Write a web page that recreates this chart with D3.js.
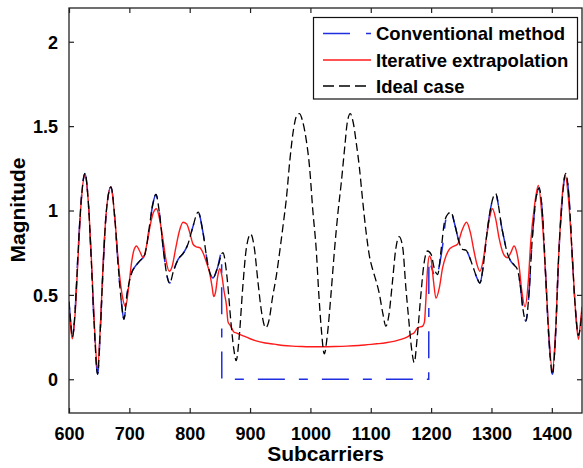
<!DOCTYPE html>
<html><head><meta charset="utf-8">
<script src="https://cdn.jsdelivr.net/npm/d3@7"></script>
<style>
html,body{margin:0;padding:0;background:#fff;}
svg text{font-family:"Liberation Sans",Arial,sans-serif;font-weight:bold;fill:#000;}
</style></head>
<body>
<svg id="chart" width="583" height="468"></svg>
<script>
// ---- data ----
const xTicks = [600, 700, 800, 900, 1000, 1100, 1200, 1300, 1400];
const yTicks = [0, 0.5, 1, 1.5, 2];
const yTickLabels = ["0", "0.5", "1", "1.5", "2"];
const seriesNames = ["Conventional method", "Iterative extrapolation", "Ideal case"];

const idealCase = [
 [600,0.46],[603,0.33],[605.5,0.25],[610,0.40],[615,0.75],[620,1.05],[626.5,1.22],[632,1.05],[637,0.7],[642,0.3],
 [647.4,0.03],[652,0.3],[657,0.7],[662,1.0],[669.5,1.14],[676,0.95],[682,0.65],[687,0.45],[691,0.355],[696,0.5],
 [703.7,0.63],[710,0.67],[717,0.70],[725.7,0.74],[733,0.9],[739,1.04],[744,1.095],[750,0.98],[756,0.78],[762,0.62],
 [767,0.57],[773,0.64],[780.8,0.71],[790,0.75],[797,0.80],[805,0.90],[814,0.99],[822,0.87],[830,0.68],[838.6,0.60],
 [846,0.66],[855,0.75],[862,0.6],[868,0.35],[873,0.18],[877,0.11],[882,0.25],[888,0.55],[894,0.78],[901,0.86],
 [907,0.78],[913,0.58],[919,0.40],[925.8,0.305],[932,0.36],[937,0.48],[943.4,0.61],[950,0.78],[955,0.92],[960,1.065],
 [966,1.3],[972,1.48],[977,1.56],[982,1.574],[987,1.53],[993,1.42],[998.5,1.26],[1004,1.0],[1009.6,0.77],[1014,0.5],
 [1018,0.3],[1023,0.15],[1028,0.26],[1034,0.5],[1040,0.77],[1046,1.0],[1051,1.16],[1057,1.38],[1061,1.52],[1066,1.574],
 [1071,1.52],[1076,1.4],[1081,1.26],[1086,1.08],[1092,0.88],[1097.8,0.73],[1104,0.64],[1109,0.58],[1114,0.51],[1120,0.39],
 [1125,0.315],[1130,0.38],[1136,0.58],[1141,0.76],[1147,0.845],[1153,0.78],[1158,0.55],[1163,0.35],[1168,0.17],[1172,0.099],
 [1177,0.25],[1183,0.5],[1188,0.68],[1194,0.76],[1200,0.74],[1205,0.66],[1210.7,0.62],[1217,0.78],[1222,0.93],[1228,0.98],
 [1233,0.99],[1239,0.92],[1246.6,0.81],[1252,0.77],[1257.7,0.765],[1264,0.72],[1270,0.66],[1276,0.6],[1280.8,0.57],[1286,0.66],
 [1292,0.85],[1298,1.0],[1303,1.08],[1307,1.10],[1312,1.02],[1316,0.92],[1321,0.83],[1326,0.75],[1332,0.70],[1338,0.675],
 [1343,0.65],[1348,0.55],[1352,0.42],[1357,0.345],[1362,0.5],[1367,0.8],[1372,1.02],[1379,1.134],[1385,0.95],[1390,0.6],
 [1395,0.25],[1401,0.03],[1406,0.25],[1411,0.7],[1417,1.05],[1423,1.22],[1429,1.05],[1434,0.72],[1439,0.42],[1444,0.26],
 [1448,0.33],[1450,0.40]
];

const iterativeExtrapolation = [
 [600,0.43],[603,0.30],[605.5,0.24],[610,0.38],[615,0.72],[620,1.04],[626.5,1.21],[632,1.05],[637,0.72],[642,0.33],
 [647.4,0.06],[652,0.32],[657,0.72],[662,1.0],[669.5,1.14],[676,0.95],[682,0.68],[688,0.5],[693.7,0.43],[699,0.55],
 [704,0.70],[708,0.77],[712,0.79],[717,0.76],[723,0.72],[729,0.80],[735,0.92],[740,0.99],[745,1.01],[750,0.95],
 [756,0.82],[761,0.70],[766,0.64],[771,0.67],[777,0.78],[783,0.88],[789,0.93],[795,0.92],[800,0.87],[805.6,0.80],
 [811,0.785],[816.6,0.78],[822,0.75],[828,0.69],[833,0.63],[837,0.55],[839.8,0.49],[843,0.52],[846,0.60],[849.7,0.655],
 [853,0.62],[857,0.52],[860.8,0.44],[863.5,0.34],[867,0.32],[870,0.30],[873,0.28],[877,0.275],[883,0.266],[890,0.255],
 [900,0.24],[910,0.227],[925,0.215],[940,0.208],[955,0.200],[970,0.196],[985,0.194],[1000,0.193],[1020,0.193],[1040,0.194],
 [1060,0.196],[1080,0.200],[1095,0.205],[1110,0.21],[1125,0.216],[1140,0.226],[1150,0.236],[1160,0.25],[1167,0.266],[1172,0.276],
 [1177.6,0.305],[1182,0.31],[1186,0.315],[1189,0.34],[1191,0.45],[1194,0.65],[1197,0.73],[1200,0.71],[1204,0.58],[1208,0.48],
 [1213.5,0.54],[1219,0.66],[1224.6,0.73],[1230,0.77],[1235.5,0.785],[1243.8,0.80],[1250,0.87],[1258.7,0.93],[1265,0.87],[1271,0.76],
 [1276,0.68],[1280.8,0.64],[1286,0.70],[1292,0.85],[1297,0.96],[1301.7,1.01],[1307,0.95],[1313,0.83],[1318,0.76],[1322,0.73],
 [1326.5,0.72],[1332,0.75],[1337.5,0.79],[1342,0.75],[1345.8,0.67],[1350,0.53],[1355.7,0.43],[1361,0.58],[1365,0.81],[1371,1.02],
 [1377.7,1.148],[1384,0.95],[1390,0.6],[1395,0.27],[1401,0.05],[1406,0.27],[1411,0.7],[1416,1.03],[1422,1.21],[1428,1.05],
 [1434,0.72],[1439,0.42],[1444,0.237],[1447,0.32],[1450,0.43]
];

const conventionalMethod = [
 [600,0.46],[603,0.33],[605.5,0.25],[610,0.40],[615,0.75],[620,1.05],[626.5,1.22],[632,1.05],[637,0.7],[642,0.3],
 [647.4,0.03],[652,0.3],[657,0.7],[662,1.0],[669.5,1.14],[676,0.95],[682,0.65],[687,0.45],[691,0.355],[696,0.5],
 [703.7,0.63],[710,0.67],[717,0.70],[725.7,0.74],[733,0.9],[739,1.04],[744,1.095],[750,0.98],[756,0.78],[762,0.62],
 [767,0.57],[773,0.64],[780.8,0.71],[790,0.75],[797,0.80],[805,0.90],[814,0.99],[822,0.87],[830,0.68],[838.6,0.60],
 [846,0.66],[852.9,0.75],[853.2,0.0],[1196,0.0],[1196.3,0.71],[1201,0.66],[1208,0.60],[1214,0.68],[1219,0.79],[1224,0.94],
 [1228,0.98],[1233,0.99],[1239,0.92],[1246.6,0.81],[1252,0.77],[1257.7,0.765],[1264,0.72],[1270,0.66],[1276,0.6],[1280.8,0.57],
 [1286,0.66],[1292,0.85],[1298,1.0],[1303,1.08],[1307,1.10],[1312,1.02],[1316,0.92],[1321,0.83],[1326,0.75],[1332,0.70],
 [1338,0.675],[1343,0.65],[1348,0.55],[1352,0.42],[1357,0.345],[1362,0.5],[1367,0.8],[1372,1.02],[1379,1.134],[1385,0.95],
 [1390,0.6],[1395,0.25],[1401,0.03],[1406,0.25],[1411,0.7],[1417,1.05],[1423,1.22],[1429,1.05],[1434,0.72],[1439,0.42],
 [1444,0.26],[1448,0.33],[1450,0.40]
];

// ---- layout ----
const W = 583, H = 468;
const m = {left: 69, right: 1, top: 8, bottom: 55};
const svg = d3.select("#chart");
const x = d3.scaleLinear().domain([600, 1450]).range([m.left, W - m.right]);
const y = d3.scaleLinear().domain([-0.2, 2.2]).range([H - m.bottom, m.top]);

svg.append("defs").append("clipPath").attr("id", "clip")
  .append("rect").attr("x", m.left).attr("y", m.top)
  .attr("width", W - m.right - m.left).attr("height", H - m.bottom - m.top);

const line = d3.line().x(d => x(d[0])).y(d => y(d[1])).curve(d3.curveMonotoneX);

const g = svg.append("g").attr("clip-path", "url(#clip)");
g.append("path").datum(conventionalMethod).attr("d", line)
  .attr("fill", "none").attr("stroke", "#1f2fe0").attr("stroke-width", 1.5)
  .attr("stroke-dasharray", "27,14,9,14");
g.append("path").datum(iterativeExtrapolation).attr("d", line)
  .attr("fill", "none").attr("stroke", "#ff1a1a").attr("stroke-width", 1.4);
g.append("path").datum(idealCase).attr("d", line)
  .attr("fill", "none").attr("stroke", "#000").attr("stroke-width", 1.3)
  .attr("stroke-dasharray", "8,4");

// ---- axes ----
const tl = 5;
const axB = svg.append("g").attr("transform", `translate(0,${H - m.bottom})`)
  .call(d3.axisBottom(x).tickValues(xTicks).tickSizeInner(-tl).tickSizeOuter(0).tickPadding(14).tickFormat(d3.format("d")));
const axT = svg.append("g").attr("transform", `translate(0,${m.top})`)
  .call(d3.axisTop(x).tickValues(xTicks).tickSizeInner(-tl).tickSizeOuter(0).tickFormat(""));
const axL = svg.append("g").attr("transform", `translate(${m.left},0)`)
  .call(d3.axisLeft(y).tickValues(yTicks).tickSizeInner(-tl).tickSizeOuter(0).tickPadding(11)
    .tickFormat((d, i) => yTickLabels[i]));
const axR = svg.append("g").attr("transform", `translate(${W - m.right},0)`)
  .call(d3.axisRight(y).tickValues(yTicks).tickSizeInner(-tl).tickSizeOuter(0).tickFormat(""));
[axB, axT, axL, axR].forEach(a => {
  a.select(".domain").remove();
  a.selectAll(".tick line").attr("stroke", "#222").attr("stroke-width", 1.2);
  a.selectAll("text").style("font-size", "18px").style("font-family", "'Liberation Sans',Arial,sans-serif").style("font-weight", "bold").attr("fill", "#000");
});
axL.selectAll("text").attr("dy", "0.35em");

svg.append("rect").attr("x", m.left).attr("y", m.top)
  .attr("width", W - m.right - m.left).attr("height", H - m.bottom - m.top)
  .attr("fill", "none").attr("stroke", "#222").attr("stroke-width", 1.3);

// ---- axis titles ----
svg.append("text").attr("x", (m.left + W - m.right) / 2).attr("y", 461)
  .attr("text-anchor", "middle").style("font-size", "21px").text("Subcarriers");
svg.append("text").attr("transform", `translate(25,210) rotate(-90)`)
  .attr("text-anchor", "middle").style("font-size", "21px").text("Magnitude");

// ---- legend ----
const lg = svg.append("g");
lg.append("rect").attr("x", 313.5).attr("y", 17.5).attr("width", 264).attr("height", 81.5)
  .attr("fill", "#fff").attr("stroke", "#111").attr("stroke-width", 1.2);
const legStyles = [
  {stroke: "#1f2fe0", dash: "27,16,5,40", w: 1.5},
  {stroke: "#ff1a1a", dash: null, w: 1.4},
  {stroke: "#000", dash: "11,5", w: 1.3}
];
const rowY = [33.5, 60, 86];
seriesNames.forEach((name, i) => {
  const l = lg.append("line").attr("x1", 323).attr("x2", 371).attr("y1", rowY[i]).attr("y2", rowY[i])
    .attr("stroke", legStyles[i].stroke).attr("stroke-width", legStyles[i].w);
  if (legStyles[i].dash) l.attr("stroke-dasharray", legStyles[i].dash);
  lg.append("text").attr("x", 376).attr("y", rowY[i] + 6.8).style("font-size", "18.5px").text(name);
});
</script>
</body></html>
